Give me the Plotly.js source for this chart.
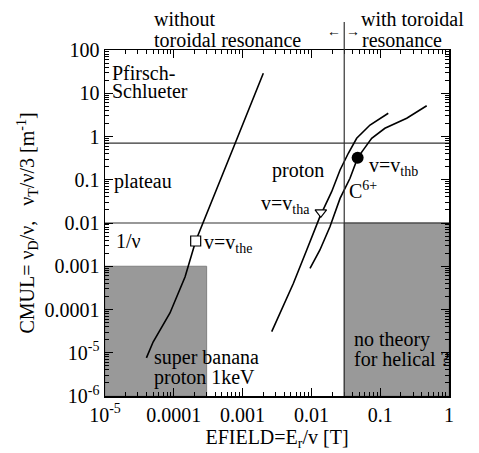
<!DOCTYPE html>
<html>
<head>
<meta charset="utf-8">
<script src="https://cdn.plot.ly/plotly-3.0.1.min.js"></script>
<style>html,body{margin:0;padding:0;background:#fff;}#chart{width:479px;height:453px;}</style>
</head>
<body>
<div id="chart"></div>
<script>
// ---- data ----
const superBananaX = [4.0e-5, 5.0e-5, 8.8e-5, 1.46e-4, 2.08e-4, 3.14e-4, 7.8e-4, 2.0e-3];
const superBananaY = [7.6e-6, 1.77e-5, 8.3e-5, 5.7e-4, 3.84e-3, 0.02, 0.70, 29];

const protonX = [2.65e-3, 3.5e-3, 5.46e-3, 8.55e-3, 0.0133, 0.0197, 0.0261, 0.0344, 0.0455, 0.0711, 0.131];
const protonY = [3.07e-5, 8.2e-5, 4.0e-4, 2.38e-3, 0.014, 0.053, 0.168, 0.41, 0.91, 1.84, 3.44];

const carbonX = [9.55e-3, 0.0133, 0.0186, 0.0261, 0.0364, 0.0471, 0.0568, 0.0752, 0.117, 0.243, 0.474];
const carbonY = [8.97e-4, 2.38e-3, 8.2e-3, 0.037, 0.108, 0.324, 0.49, 0.91, 1.55, 2.64, 5.15];

const vtheX = [2.08e-4], vtheY = [3.84e-3];
const vthaX = [0.0137],  vthaY = [0.0177];
const vthbX = [0.047],   vthbY = [0.324];

const plateauBoundary = 0.7;     // Pfirsch-Schlueter / plateau
const oneOverNuBoundary = 0.01;  // plateau / 1/nu
const resonanceBoundary = 0.03;  // toroidal resonance
const superBananaBoxX = [1e-5, 3e-4], superBananaBoxY = [1e-6, 1e-3];
const noTheoryBoxX = [0.03, 1], noTheoryBoxY = [1e-6, 0.01];

const xRange = [1e-5, 1], yRange = [1e-6, 100];
const xTickVals = [1e-5, 1e-4, 1e-3, 1e-2, 1e-1, 1];
const xTickText = ['10<sup>-5</sup>', '0.0001', '0.001', '0.01', '0.1', '1'];
const yTickVals = [1e-6, 1e-5, 1e-4, 1e-3, 1e-2, 1e-1, 1, 10, 100];
const yTickText = ['10<sup>-6</sup>', '10<sup>-5</sup>', '0.0001', '0.001', '0.01', '0.1', '1', '10', '100'];

// minor tick positions (2..9 in every decade)
function minors(d0, d1) { const a = []; for (let d = d0; d < d1; d++) for (let m = 2; m <= 9; m++) a.push(m * Math.pow(10, d)); return a; }

const FONT = 'Liberation Serif';
const L = 105, R = 449, T = 50, B = 396;
const px = x => (x - L) / (R - L);
const py = y => (B - y) / (B - T);

const gray = '#999999';
const traces = [
  {x: [superBananaBoxX[0], superBananaBoxX[1], superBananaBoxX[1], superBananaBoxX[0], superBananaBoxX[0]],
   y: [superBananaBoxY[0], superBananaBoxY[0], superBananaBoxY[1], superBananaBoxY[1], superBananaBoxY[0]],
   mode: 'lines', fill: 'toself', fillcolor: gray, line: {color: '#808080', width: 1}, hoverinfo: 'skip'},
  {x: [noTheoryBoxX[0], noTheoryBoxX[1], noTheoryBoxX[1], noTheoryBoxX[0], noTheoryBoxX[0]],
   y: [noTheoryBoxY[0], noTheoryBoxY[0], noTheoryBoxY[1], noTheoryBoxY[1], noTheoryBoxY[0]],
   mode: 'lines', fill: 'toself', fillcolor: gray, line: {color: '#808080', width: 1}, hoverinfo: 'skip'},
  {x: xRange, y: [plateauBoundary, plateauBoundary], mode: 'lines', line: {color: '#333', width: 1.2}},
  {x: xRange, y: [oneOverNuBoundary, oneOverNuBoundary], mode: 'lines', line: {color: '#333', width: 1.2}},
  {x: superBananaX, y: superBananaY, mode: 'lines', line: {color: '#000', width: 1.6}},
  {x: protonX, y: protonY, mode: 'lines', line: {color: '#000', width: 1.6}},
  {x: carbonX, y: carbonY, mode: 'lines', line: {color: '#000', width: 1.6}},
  {x: vtheX, y: vtheY, mode: 'markers', marker: {symbol: 'square', size: 10, color: '#fff', line: {color: '#000', width: 1.2}}},
  {x: vthaX, y: vthaY, mode: 'markers', marker: {symbol: 'triangle-down', size: 10, color: '#fff', line: {color: '#000', width: 1.2}}},
  {x: vthbX, y: vthbY, mode: 'markers', marker: {symbol: 'circle', size: 12, color: '#000'}}
];

function ann(text, x, y, size) {
  return {text: text, xref: 'paper', yref: 'paper', x: px(x), y: py(y), xanchor: 'left', yanchor: 'middle',
          showarrow: false, font: {family: FONT, size: size || 20, color: '#000'}, borderpad: 0};
}

const annotations = [
  ann('without', 153, 19), ann('toroidal resonance', 153, 40),
  ann('with toroidal', 360, 19), ann('resonance', 361, 40),
  ann('\u2190', 326, 32, 14), ann('\u2192', 345, 32, 14),
  ann('Pfirsch-', 111, 73), ann('Schlueter', 111, 91),
  ann('plateau', 113, 181),
  ann('1/\u03bd', 115, 241),
  ann('v=v<sub>the</sub>', 203, 243),
  ann('super banana', 153, 357), ann('proton 1keV', 153, 377),
  ann('no theory', 353, 339), ann('for helical ?', 353, 359),
  ann('proton', 271, 170),
  ann('v=v<sub>tha</sub>', 260, 204),
  ann('v=v<sub>thb</sub>', 368, 166),
  ann('C<sup>6+</sup>', 348, 190)
];

const axisCommon = {
  type: 'log', showgrid: false, zeroline: false, showline: true, linecolor: '#000', linewidth: 1.5,
  mirror: 'ticks', ticks: 'inside', ticklen: 8, tickwidth: 1, tickcolor: '#000',
  tickmode: 'array', tickfont: {family: FONT, size: 20, color: '#000'}
};

const layout = {
  width: 479, height: 453,
  margin: {l: L, r: 479 - R, t: T, b: 453 - B},
  paper_bgcolor: '#fff', plot_bgcolor: '#fff',
  showlegend: false,
  font: {family: FONT, size: 20, color: '#000'},
  xaxis: Object.assign({}, axisCommon, {
    range: [Math.log10(xRange[0]), Math.log10(xRange[1])],
    tickvals: xTickVals, ticktext: xTickText,
    minor: {tickmode: 'array', tickvals: minors(-5, 0), ticks: 'inside', ticklen: 4, tickcolor: '#000', tickwidth: 1},
    title: {text: 'EFIELD=E<sub>r</sub>/v [T]', font: {family: FONT, size: 20}, standoff: 4}
  }),
  yaxis: Object.assign({}, axisCommon, {
    range: [Math.log10(yRange[0]), Math.log10(yRange[1])],
    tickvals: yTickVals, ticktext: yTickText,
    minor: {tickmode: 'array', tickvals: minors(-6, 2), ticks: 'inside', ticklen: 4, tickcolor: '#000', tickwidth: 1},
    title: {text: 'CMUL= \u03bd<sub>D</sub>/\u03bd,\u00a0\u00a0\u00a0\u03bd<sub>T</sub>/\u03bd/3 [m<sup>-1</sup>]', font: {family: FONT, size: 20}, standoff: 4}
  }),
  shapes: [
    {type: 'line', xref: 'x', yref: 'paper', x0: resonanceBoundary, x1: resonanceBoundary, y0: 0, y1: py(22),
     line: {color: '#333', width: 1.2}}
  ],
  annotations: annotations
};

Plotly.newPlot('chart', traces, layout, {staticPlot: true, displayModeBar: false});
</script>
</body>
</html>
